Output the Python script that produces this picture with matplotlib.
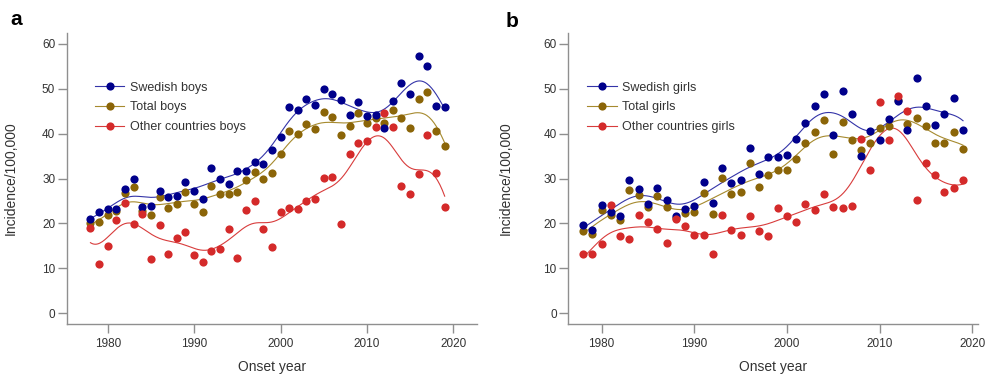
import matplotlib
matplotlib.use("Agg")
import matplotlib.pyplot as plt
import numpy as np
from matplotlib.lines import Line2D

plt.rcParams['font.family'] = ['Liberation Sans', 'DejaVu Sans']

years = np.arange(1978, 2020)

# panel a - boys
swedish_boys = [21.0, 22.5, 23.2, 23.2, 27.7, 29.9, 23.6, 24.0, 27.2, 25.8,
                26.2, 29.2, 27.2, 25.4, 32.4, 30.0, 28.7, 31.6, 31.6, 33.6,
                33.2, 36.4, 39.3, 46.0, 45.4, 47.8, 46.3, 50.0, 48.8, 47.5,
                44.1, 47.1, 44.0, 44.1, 41.2, 47.2, 51.2, 48.9, 57.3, 55.1,
                46.2, 46.0]
total_boys = [20.2, 20.4, 21.8, 22.7, 26.9, 28.2, 22.8, 21.8, 26.0, 23.4,
              24.4, 27.0, 24.4, 22.6, 28.4, 26.6, 26.5, 27.1, 29.6, 31.5,
              29.9, 31.3, 35.4, 40.5, 40.0, 42.2, 41.0, 44.9, 43.8, 39.8,
              41.7, 44.6, 42.3, 43.4, 42.5, 45.4, 43.6, 41.2, 47.8, 49.4,
              40.6, 37.3]
other_boys = [18.9, 10.9, 15.0, 20.8, 24.6, 19.9, 22.1, 12.0, 19.7, 13.1,
              16.7, 18.0, 13.0, 11.4, 13.8, 14.3, 18.7, 12.3, 23.1, 25.1,
              18.8, 14.8, 22.6, 23.4, 23.2, 25.1, 25.4, 30.1, 30.3, 19.8,
              35.5, 37.9, 38.3, 41.4, 44.6, 41.5, 28.3, 26.5, 31.0, 39.7,
              31.3, 23.6]

# panel b - girls
swedish_girls = [19.6, 18.6, 24.1, 22.6, 21.7, 29.8, 27.6, 24.4, 27.8, 25.2,
                 21.6, 23.2, 23.9, 29.3, 24.5, 32.3, 29.1, 29.8, 36.8, 31.0,
                 34.8, 34.8, 35.2, 38.8, 42.4, 46.1, 48.9, 39.7, 49.5, 44.3,
                 35.1, 40.5, 38.5, 43.3, 47.4, 40.8, 52.5, 46.2, 42.0, 44.5,
                 47.9, 40.8]
total_girls = [18.3, 17.7, 23.0, 22.0, 20.8, 27.4, 26.4, 23.6, 26.1, 23.6,
               21.2, 22.3, 22.6, 26.9, 22.1, 30.1, 26.6, 27.0, 33.4, 28.1,
               30.7, 31.9, 31.9, 34.4, 37.9, 40.4, 43.1, 35.5, 42.6, 38.6,
               36.4, 38.0, 41.2, 41.8, 47.5, 42.2, 43.4, 41.8, 38.0, 38.0,
               40.3, 36.5]
other_girls = [13.2, 13.2, 15.5, 24.1, 17.2, 16.6, 21.8, 20.3, 18.7, 15.6,
               21.0, 19.5, 17.4, 17.4, 13.2, 21.8, 18.6, 17.4, 21.6, 18.3,
               17.1, 23.4, 21.6, 20.3, 24.4, 23.0, 26.5, 23.7, 23.5, 24.0,
               38.9, 31.9, 47.0, 38.7, 48.3, 45.0, 25.3, 33.4, 30.8, 27.0,
               27.8, 29.7]

pt_colors = {'swe': '#00008b', 'tot': '#8b6508', 'oth': '#d42a2a'}
ln_colors = {'swe': '#3434a8', 'tot': '#a68a2e', 'oth': '#d83c3c'}


def smooth(x, y, h=1.7):
    # local linear fit with gaussian weights
    x = np.asarray(x, float)
    y = np.asarray(y, float)
    xs = np.linspace(x.min(), x.max(), 300)
    ys = []
    for x0 in xs:
        w = np.exp(-0.5 * ((x - x0) / h) ** 2)
        xm = np.sum(w * x) / w.sum()
        ym = np.sum(w * y) / w.sum()
        b = np.sum(w * (x - xm) * (y - ym)) / np.sum(w * (x - xm) ** 2)
        ys.append(ym + b * (x0 - xm))
    return xs, np.array(ys)


fig = plt.figure(figsize=(9.91, 3.74), dpi=100)
ax_a = fig.add_axes([66.7 / 991, 50 / 374, 410.3 / 991, 291 / 374])
ax_b = fig.add_axes([568.3 / 991, 50 / 374, 410 / 991, 291 / 374])

panels = [
    (ax_a, [total_boys, swedish_boys, other_boys],
     ['Swedish boys', 'Total boys', 'Other countries boys'],
     (1975.25, 2022.74), -0.119, 0.069),
    (ax_b, [total_girls, swedish_girls, other_girls],
     ['Swedish girls', 'Total girls', 'Other countries girls'],
     (1976.4, 2020.65), -0.135, 0.046),
]

for ax, series, labels, xlim, ylab_x, leg_x in panels:
    keys = ['tot', 'swe', 'oth']
    for vals, k in zip(series, keys):
        xs, ys = smooth(years, vals)
        ax.plot(xs, ys, color=ln_colors[k], lw=0.8, zorder=2)
    for vals, k in zip(series, keys):
        ax.plot(years, vals, 'o', ms=5.9, color=pt_colors[k], mec='none', zorder=3)

    ax.set_xlim(*xlim)
    ax.set_ylim(-2.4, 62.45)
    ax.set_xticks([1980, 1990, 2000, 2010, 2020])
    ax.set_yticks(range(0, 61, 10))
    for s in ['top', 'right']:
        ax.spines[s].set_visible(False)
    for s in ['left', 'bottom']:
        ax.spines[s].set_color('#8f8f8f')
        ax.spines[s].set_linewidth(1.0)
    ax.tick_params(axis='both', colors='#8f8f8f', labelcolor='#333333',
                   labelsize=8.5, length=6.8, width=1.0)
    ax.tick_params(axis='y', pad=1.5)
    ax.tick_params(axis='x', pad=3)
    ax.set_xlabel('Onset year', fontsize=10, color='#333333')
    ax.xaxis.set_label_coords(0.5, -0.125)
    ax.set_ylabel('Incidence/100,000', fontsize=10, color='#333333')
    ax.yaxis.set_label_coords(ylab_x, 0.5)

    handles = []
    for k in ['swe', 'tot', 'oth']:
        handles.append(Line2D([], [], color=ln_colors[k], lw=0.8, marker='o',
                              ms=5.9, mfc=pt_colors[k], mec='none'))
    ax.legend(handles, labels, loc='upper left', bbox_to_anchor=(leg_x, 0.833),
              frameon=False, fontsize=9, handlelength=2.35, handletextpad=0.45,
              labelspacing=0.62, borderpad=0, borderaxespad=0,
              labelcolor='#333333')

fig.text(10 / 991, 1 - 25 / 374, 'a', fontsize=15, fontweight='bold')
fig.text(506 / 991, 1 - 27 / 374, 'b', fontsize=15, fontweight='bold')

fig.savefig('out.png', dpi=100)
